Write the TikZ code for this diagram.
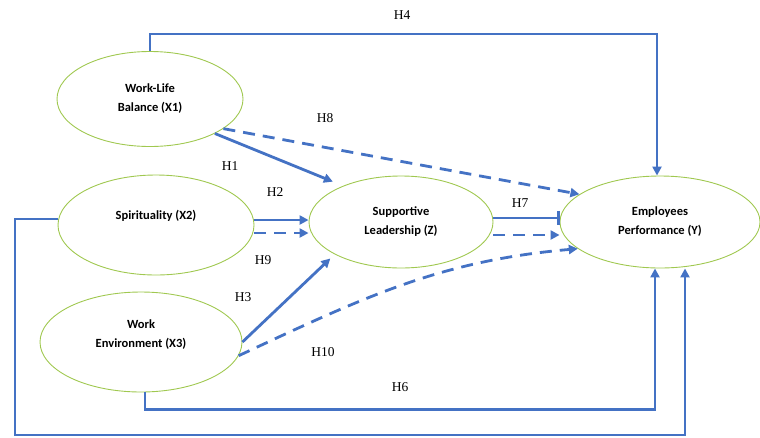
\documentclass[tikz,border=0pt]{standalone}
\usepackage{fontspec}
\setmainfont{Carlito}
\newfontfamily\hypfont{Liberation Serif}
\usetikzlibrary{shapes.geometric,arrows.meta}
\definecolor{pathblue}{RGB}{68,114,196}
\definecolor{ovalgreen}{RGB}{160,200,80}

\begin{document}
\begin{tikzpicture}[x=1pt,y=-1pt,
		>={Triangle[length=9pt,width=9pt]},
		vartext/.style={align=center, font=\fontsize{12.5}{19}\selectfont\bfseries},
		var/.style={ellipse, draw=ovalgreen, line width=0.9pt, inner sep=0pt, vartext},
		link/.style={color=pathblue, line width=2.8pt},
		dlink/.style={link, dash pattern=on 12pt off 8pt},
		hyp/.style={font=\hypfont\fontsize{13.5}{15}\selectfont}]
		\useasboundingbox (0,0) rectangle (760,437);
		%Variabler
		\node[var, minimum width=186pt, minimum height=95pt] (x1) at (150,99) {Work-Life\\Balance (X1)};
		\node[var, minimum width=196pt, minimum height=100pt, label={[vartext, yshift=9pt]center:Spirituality (X2)}] (x2) at (156,225) {};
		\node[var, minimum width=202pt, minimum height=100pt, label={[vartext, yshift=7pt]center:Work\\Environment (X3)}] (x3) at (141,342) {};
		\node[var, minimum width=184pt, minimum height=92pt] (z) at (401,222) {Supportive\\Leadership (Z)};
		\node[var, minimum width=200pt, minimum height=92pt] (y) at (660,222) {Employees\\Performance (Y)};
		%Direkte stier
		\draw[link, ->] (x1.north) -- ++(0,-17) -| ([xshift=-3pt]y.north);
		\draw[link, ->, shorten >=11pt] (x1.-28) -- (z.148);
		\draw[link, ->] ([yshift=5pt]x2.east) -- ([yshift=5pt]x2.east -| z.west);
		\draw[link, ->, shorten >=6pt] (x3.east) -- (z.206);
		\draw[link, -|] ([yshift=4pt]z.east) -- ([yshift=4pt]z.east -| y.west);
		\draw[link, ->] ([xshift=4pt]x3.south) -- ++(0,17) -| ([xshift=-5pt]y.south);
		\coordinate (bend) at (15,435);
		\draw[link, ->] ([yshift=6pt]x2.west) -| (bend) -| ([xshift=25pt]y.south);
		%Indirekte stier
		\draw[dlink, ->] (x1.-22) -- (y.161);
		\draw[dlink, ->] ([yshift=-8pt]x2.east) -- ([yshift=-8pt]x2.east -| z.west);
		\draw[dlink, ->] ([yshift=-13pt]z.east) -- ([yshift=-13pt]z.east -| y.west);
		\draw[dlink, ->] (x3.-8) to[out=25, in=185] (y.198);
		%Hypoteser
		\node[hyp] (h1) at (230,166) {H1};
		\node[hyp] (h2) at (275,192) {H2};
		\node[hyp] (h3) at (243,297) {H3};
		\node[hyp] (h4) at (402,15) {H4};
		\node[hyp] (h6) at (400,387) {H6};
		\node[hyp] (h7) at (520,203) {H7};
		\node[hyp] (h8) at (325,118) {H8};
		\node[hyp] (h9) at (263,260) {H9};
		\node[hyp] (h10) at (323,352) {H10};
	\end{tikzpicture}
\end{document}
